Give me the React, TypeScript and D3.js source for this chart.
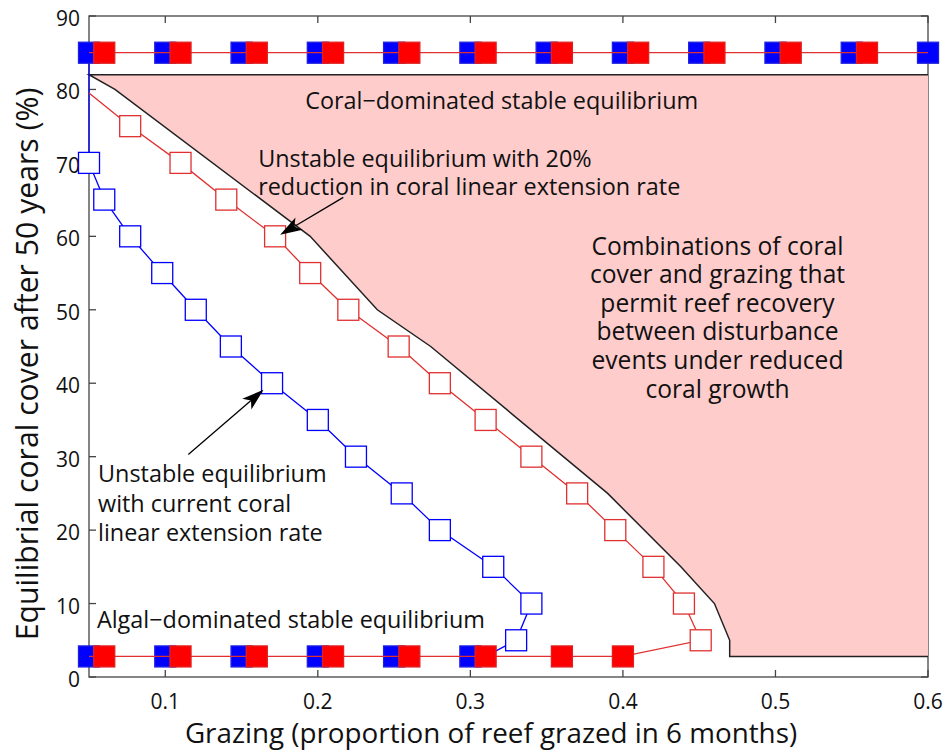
import React from 'react'
import * as d3 from 'd3'

const W = 945
const H = 751
const margin = { left: 89, right: 17, top: 16, bottom: 74 }

// stable equilibria (filled markers)
const stableHigh = 85
const stableLow = 2.8
const topBlueX = [0.05, 0.1, 0.15, 0.2, 0.25, 0.3, 0.35, 0.4, 0.45, 0.5, 0.55, 0.6]
const topRedX = [0.06, 0.11, 0.16, 0.21, 0.26, 0.31, 0.36, 0.41, 0.46, 0.51, 0.56]
const bottomBlueX = [0.05, 0.1, 0.15, 0.2, 0.25, 0.3]
const bottomRedX = [0.06, 0.11, 0.16, 0.21, 0.26, 0.31, 0.36, 0.4]

// unstable equilibrium, current extension rate (blue open squares)
const blueCurveX = [0.05, 0.05, 0.06, 0.077, 0.098, 0.12, 0.143, 0.17, 0.2, 0.225, 0.255, 0.28, 0.315, 0.34, 0.33, 0.31]
const blueCurveY = [85, 70, 65, 60, 55, 50, 45, 40, 35, 30, 25, 20, 15, 10, 5, 2.8]
const blueMarked = [false, true, true, true, true, true, true, true, true, true, true, true, true, true, true, false]

// unstable equilibrium, 20% reduced extension rate (red open squares)
const redCurveX = [0.05, 0.077, 0.11, 0.14, 0.172, 0.195, 0.22, 0.253, 0.28, 0.31, 0.34, 0.37, 0.395, 0.42, 0.44, 0.451, 0.4]
const redCurveY = [79.5, 75, 70, 65, 60, 55, 50, 45, 40, 35, 30, 25, 20, 15, 10, 5, 2.8]
const redMarked = [false, true, true, true, true, true, true, true, true, true, true, true, true, true, true, true, false]

// recovery region boundary
const boundaryX = [0.05, 0.067, 0.195, 0.239, 0.274, 0.39, 0.438, 0.46, 0.47, 0.47, 0.6]
const boundaryY = [82, 80, 60, 50, 45, 25, 15, 10, 5, 2.8, 2.8]
const regionTop = 82

const xTicks = [0.1, 0.2, 0.3, 0.4, 0.5, 0.6]
const yTicks = [0, 10, 20, 30, 40, 50, 60, 70, 80, 90]

const regionLines = [
  'Combinations of coral',
  'cover and grazing that',
  'permit reef recovery',
  'between disturbance',
  'events under reduced',
  'coral growth',
]
const reducedLines = ['Unstable equilibrium with 20%', 'reduction in coral linear extension rate']
const currentLines = ['Unstable equilibrium', 'with current coral', 'linear extension rate']

const FONT = '"Open Sans", "DejaVu Sans", sans-serif'
const BLUE = '#0000ff'
const RED = '#ff0000'
const PINK = '#ffcccc'
const MS = 21

const App: React.FC = () => {
  const x = d3.scaleLinear().domain([0.05, 0.6]).range([margin.left, W - margin.right])
  const y = d3.scaleLinear().domain([0, 90]).range([H - margin.bottom, margin.top])
  const [x0, x1] = x.range()
  const [y0, y1] = y.range()

  const line = d3.line<[number, number]>().x(d => x(d[0])).y(d => y(d[1]))

  const boundaryPts: [number, number][] = boundaryX.map((v, i) => [v, boundaryY[i]])
  const regionPts: [number, number][] = [[0.6, regionTop], [0.05, regionTop], ...boundaryPts]
  const bluePts: [number, number][] = blueCurveX.map((v, i) => [v, blueCurveY[i]])
  const redPts: [number, number][] = redCurveX.map((v, i) => [v, redCurveY[i]])

  const square = (cx: number, cy: number, fill: string, stroke: string, key: string) => (
    <rect key={key} x={cx - MS / 2} y={cy - MS / 2} width={MS} height={MS}
      fill={fill} stroke={stroke} strokeWidth={1.3} />
  )

  const arrow = (tx: number, ty: number, hx: number, hy: number) => {
    const ax = x(tx), ay = y(ty), bx = x(hx), by = y(hy)
    const ang = Math.atan2(by - ay, bx - ax)
    const len = 22, wid = 7
    const px = bx - len * Math.cos(ang), py = by - len * Math.sin(ang)
    const nx = -Math.sin(ang) * wid, ny = Math.cos(ang) * wid
    const back = 0.25
    const mx = bx - len * (1 - back) * Math.cos(ang), my = by - len * (1 - back) * Math.sin(ang)
    return (
      <g>
        <line x1={ax} y1={ay} x2={mx} y2={my} stroke="#000" strokeWidth={1.3} />
        <polygon points={`${bx},${by} ${px + nx},${py + ny} ${mx},${my} ${px - nx},${py - ny}`} fill="#000" />
      </g>
    )
  }

  return (
    <svg width={W} height={H} style={{ position: 'absolute', left: 0, top: 0, background: '#fff' }}
      fontFamily={FONT}>
      {/* axes box and ticks */}
      <rect x={x0} y={y1} width={x1 - x0} height={y0 - y1} fill="none" stroke="#444" strokeWidth={1.3} />
      {xTicks.map(t => (
        <g key={'xt' + t}>
          <line x1={x(t)} x2={x(t)} y1={y0} y2={y0 - 7} stroke="#444" strokeWidth={1.3} />
          <line x1={x(t)} x2={x(t)} y1={y1} y2={y1 + 7} stroke="#444" strokeWidth={1.3} />
          <text x={x(t)} y={y0 + 32} textAnchor="middle" fontSize={21} fill="#111">{t}</text>
        </g>
      ))}
      {yTicks.map(t => (
        <g key={'yt' + t}>
          <line x1={x0} x2={x0 + 7} y1={y(t)} y2={y(t)} stroke="#444" strokeWidth={1.3} />
          <line x1={x1} x2={x1 - 7} y1={y(t)} y2={y(t)} stroke="#444" strokeWidth={1.3} />
          <text x={x0 - 9} y={y(t) + 10} textAnchor="end" fontSize={21} fill="#111">{t}</text>
        </g>
      ))}

      {/* recovery region */}
      <path d={line(regionPts)! + 'Z'} fill={PINK} stroke="none" />
      <path d={line([[0.6, regionTop], [0.05, regionTop], ...boundaryPts])!} fill="none" stroke="#222" strokeWidth={1.5} />

      {/* unstable equilibria */}
      <path d={line(bluePts)!} fill="none" stroke={BLUE} strokeWidth={1.3} />
      {bluePts.map((p, i) => blueMarked[i] && square(x(p[0]), y(p[1]), '#fff', BLUE, 'bc' + i))}
      <path d={line(redPts)!} fill="none" stroke="#e03030" strokeWidth={1.3} />
      {redPts.map((p, i) => redMarked[i] && square(x(p[0]), y(p[1]), '#fff', '#e03030', 'rc' + i))}

      {/* stable equilibria */}
      {topBlueX.map((v, i) => square(x(v), y(stableHigh), BLUE, '#2020e0', 'tb' + i))}
      {bottomBlueX.map((v, i) => square(x(v), y(stableLow), BLUE, '#2020e0', 'bb' + i))}
      <line x1={x(0.05)} x2={x(0.6)} y1={y(stableHigh)} y2={y(stableHigh)} stroke="#e03030" strokeWidth={1.3} />
      <line x1={x(0.05)} x2={x(0.4)} y1={y(stableLow)} y2={y(stableLow)} stroke="#e03030" strokeWidth={1.3} />
      {topRedX.map((v, i) => square(x(v), y(stableHigh), RED, '#e02020', 'tr' + i))}
      {bottomRedX.map((v, i) => square(x(v), y(stableLow), RED, '#e02020', 'br' + i))}

      {/* annotations */}
      <g fontSize={23.4} fill="#111">
        <text x={x(0.1917)} y={y(77.3)}>Coral−dominated stable equilibrium</text>
        {reducedLines.map((s, i) => (
          <text key={s} x={x(0.1609)} y={y(69.5) + i * 28.5}>{s}</text>
        ))}
        {currentLines.map((s, i) => (
          <text key={s} x={x(0.0559)} y={y(26.5) + i * 29.2}>{s}</text>
        ))}
        <text x={x(0.0552)} y={y(6.7)}>Algal−dominated stable equilibrium</text>
      </g>
      <g fontSize={24.6} fill="#111">
        {regionLines.map((s, i) => (
          <text key={s} x={x(0.462)} y={y(57.5) + i * 28.6} textAnchor="middle">{s}</text>
        ))}
      </g>
      {arrow(0.2167, 65.3, 0.1753, 60.2)}
      {arrow(0.1151, 30.3, 0.1644, 39.1)}

      {/* axis labels */}
      <text x={491} y={743} textAnchor="middle" fontSize={27.8} fill="#111">
        Grazing (proportion of reef grazed in 6 months)
      </text>
      <text transform={`translate(38, 364) rotate(-90)`} textAnchor="middle" fontSize={30.2} fill="#111">
        Equilibrial coral cover after 50 years (%)
      </text>
    </svg>
  )
}

export default App
